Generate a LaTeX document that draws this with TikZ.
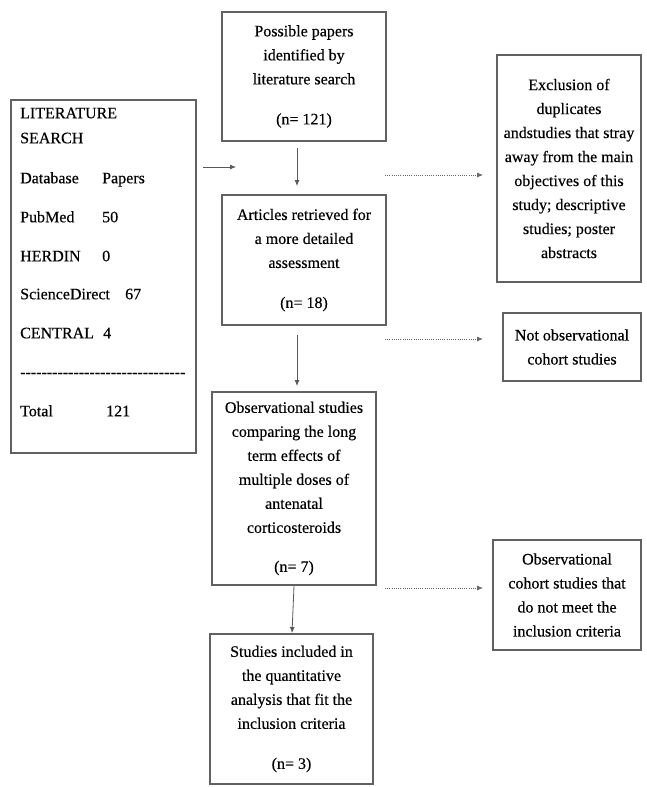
\documentclass[tikz,border=0pt]{standalone}
\usepackage{fontspec}
\setmainfont{Liberation Serif}[FakeBold=0.35]
\newfontfamily\dashfont{Liberation Serif}[FakeBold=0.35]
\usetikzlibrary{arrows.meta}
\newcommand\dashrow{\dashfont\foreach \i in {1,...,31}{-\kern0pt}}
\begin{document}
\begin{tikzpicture}[x=1pt,y=-1pt,
  box/.style={draw=black!62, line width=1.2pt, align=center,
    font=\fontsize{16}{24}\selectfont, inner sep=0pt, text=black},
  lt/.style={anchor=mid west, font=\fontsize{16}{19}\selectfont, inner sep=0pt, text=black},
  arr/.style={draw=black!65, line width=0.8pt, -{Latex[length=6pt,width=5pt]}},
  dotarr/.style={draw=black!60, line width=0.8pt, dash pattern=on 1pt off 1.2pt,
    -{Latex[length=6pt,width=5pt]}}]
\useasboundingbox (0,0) rectangle (647,787);

% left literature box
\node[draw=black!62, line width=1.2pt, minimum width=185pt, minimum height=353pt, inner sep=0pt] (lit) at (103.5,276.5) {};
\node[lt] (l1) at (20,116) {LITERATURE};
\node[lt] (l2) at (20,141) {SEARCH};
\node[lt] (l3) at (20,181) {Database};
\node[lt] (l3b) at (102,181) {Papers};
\node[lt] (l4) at (20,220) {PubMed};
\node[lt] (l4b) at (102,220) {50};
\node[lt] (l5) at (20,259) {HERDIN};
\node[lt] (l5b) at (102,259) {0};
\node[lt] (l6) at (20,297) {ScienceDirect};
\node[lt] (l6b) at (125,297) {67};
\node[lt] (l7) at (20,336) {CENTRAL};
\node[lt] (l7b) at (103,336) {4};
\node[lt] (l8) at (20,375) {\dashrow};
\node[lt] (l9) at (20,414) {Total};
\node[lt] (l9b) at (106,414) {121};

% main column
\node[box, minimum width=164pt, minimum height=129pt] (top) at (304,76.5)
  {Possible papers\\identified by\\literature search\\[16pt](n= 121)};
\node[box, minimum width=164pt, minimum height=130pt] (art) at (304,260)
  {Articles retrieved for\\a more detailed\\assessment\\[16pt](n= 18)};
\node[box, minimum width=164pt, minimum height=193pt] (obs) at (294,488.5)
  {Observational studies\\comparing the long\\term effects of\\multiple doses of\\antenatal\\corticosteroids\\[15pt](n= 7)};
\node[box, minimum width=163pt, minimum height=150pt] (inc) at (291.5,709)
  {Studies included in\\the quantitative\\analysis that fit the\\inclusion criteria\\[16pt](n= 3)};

% right column
\node[box, minimum width=144pt, minimum height=227pt] (exc) at (569,168.5)
  {Exclusion of\\duplicates\\andstudies that stray\\away from the main\\objectives of this\\study; descriptive\\studies; poster\\abstracts};
\node[box, minimum width=138pt, minimum height=68pt] (nob) at (572,347)
  {Not observational\\cohort studies};
\node[box, minimum width=148pt, minimum height=110pt] (noc) at (567,595)
  {Observational\\cohort studies that\\do not meet the\\inclusion criteria};

% connector coordinates
\coordinate (a1s) at (203,167);
\coordinate (a1e) at (236,167);
\coordinate (a2s) at (297,148);
\coordinate (a2e) at (297,186);
\coordinate (a3s) at (297,335);
\coordinate (a3e) at (297,386);
\coordinate (a4s) at (294,586);
\coordinate (a4e) at (292,633);
\coordinate (d1s) at (385,175);
\coordinate (d1e) at (483,175);
\coordinate (d2s) at (385,339);
\coordinate (d2e) at (483,339);
\coordinate (d3s) at (385,588);
\coordinate (d3e) at (483,588);

\draw[arr] (a1s) -- (a1e);
\draw[arr] (a2s) -- (a2e);
\draw[arr] (a3s) -- (a3e);
\draw[arr] (a4s) -- (a4e);
\draw[dotarr] (d1s) -- (d1e);
\draw[dotarr] (d2s) -- (d2e);
\draw[dotarr] (d3s) -- (d3e);
\end{tikzpicture}
\end{document}
